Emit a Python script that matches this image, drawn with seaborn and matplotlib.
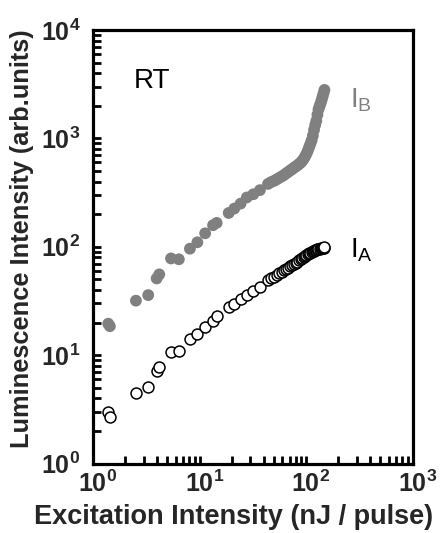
import matplotlib
matplotlib.use("Agg")
import matplotlib.pyplot as plt
import matplotlib.ticker as mticker
from matplotlib.transforms import ScaledTranslation
import numpy as np
import pandas as pd
import seaborn as sns

# ---- data ----
excitation = [1.39, 1.44, 2.53, 3.30, 3.96, 4.19, 5.4, 6.4, 8.13, 9.55, 11.3, 13.4, 14.5,
              18.8, 21.2, 24.3, 27.8, 32.0, 36.9, 44, 47, 50, 53, 56, 59, 62, 65, 68, 71,
              74, 77, 80, 83, 86, 89, 92, 95, 98, 101, 104, 107, 110, 113, 116, 119, 122,
              125, 128, 131, 134, 137, 140, 143, 146, 149]
intensity_B = [19.5, 18.5, 31.8, 35.8, 51, 55.6, 78, 76.6, 96, 110, 133, 158, 166,
               205, 225, 250, 285, 305, 333, 380, 395, 405, 418, 432, 445, 458, 475, 490, 505,
               520, 535, 550, 563, 580, 595, 620, 645, 680, 720, 770, 830, 890, 960, 1060, 1200, 1330,
               1450, 1650, 1850, 1980, 2100, 2250, 2420, 2600, 2800]
intensity_A = [3.0, 2.7, 4.44, 5.1, 7.2, 7.8, 10.7, 11.0, 14.0, 15.6, 18.3, 20.8, 23.0,
               27.8, 29.8, 33.0, 35.8, 39.4, 42.8, 49, 51.5, 53, 55, 57, 59, 60.5, 62, 64, 66,
               68, 70, 71.5, 73, 75, 76.5, 78, 80, 82, 84, 85.5, 87, 88.5, 90, 91, 92, 93,
               94, 95, 95.5, 96, 96.5, 97, 97.5, 98, 98.5]
decade_ticks = [1, 10, 100, 1000, 10000]
x_tick_labels = [r"$\mathbf{10^{0}}$", r"$\mathbf{10^{1}}$", r"$\mathbf{10^{2}}$", r"$\mathbf{10^{3}}$"]
y_tick_labels = [r"$\mathbf{10^{0}}$", r"$\mathbf{10^{1}}$", r"$\mathbf{10^{2}}$", r"$\mathbf{10^{3}}$", r"$\mathbf{10^{4}}$"]

df = pd.DataFrame({"x": excitation, "IB": intensity_B, "IA": intensity_A})

sns.set_style("white")
plt.rcParams["font.family"] = ["Liberation Sans", "DejaVu Sans"]
plt.rcParams["mathtext.fontset"] = "custom"
plt.rcParams["mathtext.rm"] = "Liberation Sans"
plt.rcParams["mathtext.bf"] = "Liberation Sans:bold"
plt.rcParams["mathtext.it"] = "Liberation Sans:italic"

fig = plt.figure(figsize=(4.46, 5.33), dpi=100)
ax = fig.add_axes([93/446, 1 - 463.5/533, (412.5 - 93)/446, (463.5 - 30)/533])

sns.scatterplot(data=df, x="x", y="IB", ax=ax, s=72, color="#808080", edgecolor="none",
                linewidth=0, zorder=3)
sns.scatterplot(data=df, x="x", y="IA", ax=ax, s=62, color="white", edgecolor="black",
                linewidth=1.1, zorder=4)

ax.set_xscale("log")
ax.set_yscale("log")
ax.set_xlim(1, 1000)
ax.set_ylim(1, 10000)

ax.xaxis.set_major_locator(mticker.FixedLocator(decade_ticks[:4]))
ax.yaxis.set_major_locator(mticker.FixedLocator(decade_ticks))
ax.xaxis.set_minor_locator(mticker.LogLocator(base=10, subs=np.arange(2, 10), numticks=30))
ax.yaxis.set_minor_locator(mticker.LogLocator(base=10, subs=np.arange(2, 10), numticks=30))
ax.xaxis.set_minor_formatter(mticker.NullFormatter())
ax.yaxis.set_minor_formatter(mticker.NullFormatter())
ax.set_xticklabels(x_tick_labels)
ax.set_yticklabels(y_tick_labels)

for sp in ax.spines.values():
    sp.set_linewidth(2.3)
    sp.set_color("black")
ax.tick_params(which="both", direction="in", length=6, width=2, top=False, right=False,
               left=True, bottom=True, color="black")
ax.tick_params(which="major", labelsize=18, pad=5)
ax.tick_params(axis="y", which="major", pad=9)

shift = ScaledTranslation(5/100, 0, fig.dpi_scale_trans)
for lab in ax.get_xticklabels():
    lab.set_transform(lab.get_transform() + shift)

ax.set_xlabel("Excitation Intensity (nJ / pulse)", fontsize=19.5, fontweight="bold")
ax.set_ylabel("Luminescence Intensity (arb.units)", fontsize=18.3, fontweight="bold")
ax.xaxis.set_label_coords(0.44, -0.094)
ax.yaxis.set_label_coords(-0.185, 0.519)

ax.text(3.58, 3400, "RT", fontsize=20, color="black", ha="center", va="center")
ax.text(330, 2250, r"$\mathregular{I_B}$", fontsize=20, color="#808080", ha="center", va="center")
ax.text(330, 92, r"$\mathregular{I_A}$", fontsize=20, color="black", ha="center", va="center")

fig.savefig("out.png", dpi=100)
